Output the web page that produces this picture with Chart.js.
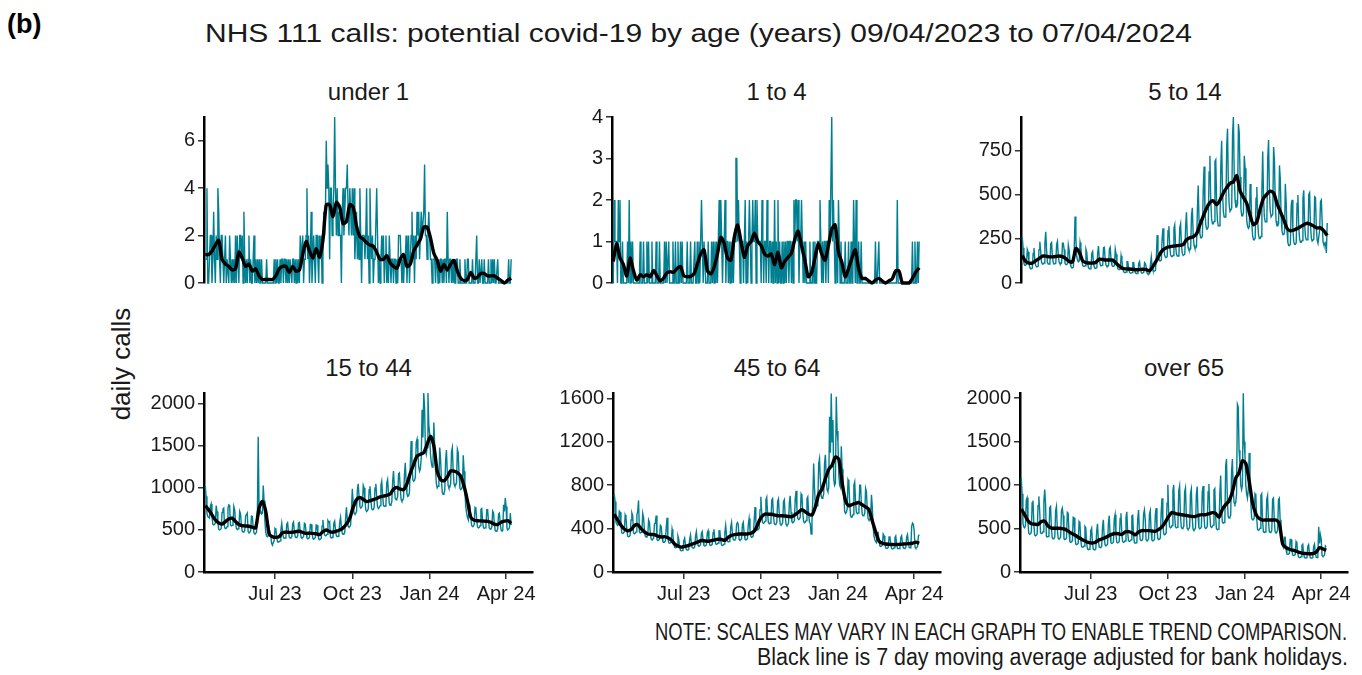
<!DOCTYPE html>
<html>
<head>
<meta charset="utf-8">
<title>NHS 111 calls: potential covid-19 by age</title>
<script src="https://cdn.jsdelivr.net/npm/chart.js@4.4.1/dist/chart.umd.min.js"></script>
<style>
  body { margin: 0; width: 1362px; height: 675px; background: #fff; position: relative; overflow: hidden;
         font-family: "Liberation Sans", Arial, sans-serif; color: #1a1a1a; }
  .txt { position: absolute; white-space: nowrap; line-height: 1; }
  canvas { position: absolute; }
</style>
</head>
<body>
<div class="txt" style="left:7px; top:11px; font-size:27px; font-weight:bold; color:#000;">(b)</div>
<div class="txt fit" data-w="987" style="left:205px; top:20px; font-size:26px;">NHS 111 calls: potential covid-19 by age (years) 09/04/2023 to 07/04/2024</div>
<div class="txt" style="left:121px; top:364px; font-size:26px; transform: translate(-50%, -50%) rotate(-90deg);">daily calls</div>
<div class="txt fit" data-w="692" style="left:655px; top:621px; font-size:23px; font-family:'Liberation Sans Narrow','Liberation Sans',sans-serif;">NOTE: SCALES MAY VARY IN EACH GRAPH TO ENABLE TREND COMPARISON.</div>
<div class="txt fit" data-w="591" style="left:757px; top:646px; font-size:23px; font-family:'Liberation Sans Narrow','Liberation Sans',sans-serif;">Black line is 7 day moving average adjusted for bank holidays.</div>

<script>
// panels, in reading order
const AGE_GROUPS = ["under 1", "1 to 4", "5 to 14", "15 to 44", "45 to 64", "over 65"];

// x axis: day 0 = 09/04/2023 (Sunday), one value per day up to 07/04/2024
const X_TICK_DAYS = [83, 175, 267, 358];
const X_TICK_LABELS = ["Jul 23", "Oct 23", "Jan 24", "Apr 24"];

// y axis per panel
const Y_TICKS = [
  [0, 2, 4, 6],
  [0, 1, 2, 3, 4],
  [0, 250, 500, 750],
  [0, 500, 1000, 1500, 2000],
  [0, 400, 800, 1200, 1600],
  [0, 500, 1000, 1500, 2000]
];
const Y_MAX = [7, 4, 940, 2130, 1650, 2060];

// daily calls, one row per week (Sun..Sat)
const DAILY_UNDER_1 = [
  1, 1, 4, 0, 0, 1, 2,
  2, 0, 1, 3, 1, 0, 2,
  1, 4, 3, 1, 0, 2, 2,
  2, 0, 1, 2, 0, 1, 1,
  0, 2, 1, 0, 1, 0, 1,
  0, 2, 0, 2, 1, 0, 2,
  2, 1, 2, 0, 3, 1, 0,
  1, 0, 1, 2, 0, 1, 0,
  0, 1, 2, 0, 1, 0, 1,
  0, 1, 0, 0, 1, 0, 0,
  0, 0, 0, 1, 0, 0, 0,
  0, 0, 0, 0, 0, 1, 0,
  1, 0, 1, 0, 0, 1, 0,
  1, 1, 0, 1, 1, 0, 1,
  0, 1, 0, 1, 1, 0, 1,
  1, 0, 1, 0, 1, 0, 1,
  0, 2, 1, 1, 2, 0, 1,
  1, 2, 4, 1, 2, 0, 1,
  3, 0, 1, 2, 1, 0, 2,
  2, 1, 0, 2, 1, 2, 0,
  1, 3, 2, 3, 6, 4, 5,
  4, 1, 4, 4, 2, 3, 4,
  7, 4, 2, 4, 2, 3, 2,
  2, 0, 3, 4, 2, 3, 4,
  4, 5, 3, 2, 4, 3, 2,
  4, 2, 4, 1, 2, 3, 1,
  2, 1, 4, 2, 0, 2, 2,
  2, 1, 2, 4, 1, 2, 0,
  4, 2, 1, 2, 0, 1, 1,
  1, 4, 2, 0, 1, 0, 1,
  2, 1, 2, 0, 1, 2, 0,
  1, 0, 2, 1, 0, 1, 1,
  0, 1, 1, 0, 1, 0, 2,
  2, 2, 1, 0, 1, 0, 1,
  1, 2, 0, 1, 2, 0, 1,
  2, 3, 1, 2, 0, 2, 1,
  3, 2, 3, 1, 2, 3, 2,
  2, 3, 5, 2, 2, 1, 2,
  3, 2, 1, 1, 0, 1, 1,
  1, 0, 1, 1, 0, 1, 0,
  1, 1, 0, 1, 0, 1, 1,
  0, 3, 1, 0, 1, 1, 0,
  1, 0, 1, 0, 0, 1, 1,
  0, 0, 1, 0, 0, 0, 0,
  0, 1, 0, 0, 1, 1, 0,
  0, 0, 0, 1, 0, 0, 0,
  0, 2, 0, 0, 1, 0, 0,
  1, 0, 0, 1, 0, 0, 0,
  0, 1, 0, 0, 1, 0, 1,
  0, 1, 0, 0, 0, 1, 0,
  0, 0, 0, 0, 0, 0, 0,
  0, 0, 0, 0, 1, 0, 0,
  1
];

const DAILY_1_TO_4 = [
  0, 2, 1, 1, 1, 0, 2,
  1, 2, 0, 0, 1, 0, 0,
  0, 0, 0, 1, 0, 2, 0,
  1, 0, 1, 0, 0, 0, 0,
  0, 0, 0, 0, 1, 0, 0,
  0, 1, 0, 0, 0, 1, 0,
  1, 0, 0, 0, 1, 0, 0,
  0, 0, 1, 0, 0, 0, 1,
  0, 0, 0, 0, 0, 1, 0,
  1, 0, 0, 1, 0, 0, 0,
  0, 1, 0, 0, 1, 0, 0,
  1, 0, 0, 1, 0, 1, 0,
  0, 0, 0, 0, 1, 0, 0,
  0, 1, 0, 0, 0, 0, 1,
  0, 0, 1, 0, 1, 0, 1,
  2, 1, 0, 1, 1, 0, 0,
  0, 1, 0, 0, 0, 1, 0,
  1, 0, 1, 0, 1, 0, 1,
  2, 1, 2, 1, 0, 1, 1,
  2, 0, 1, 1, 0, 1, 0,
  1, 0, 1, 0, 1, 1, 3,
  3, 1, 2, 1, 0, 1, 1,
  1, 0, 1, 2, 0, 1, 0,
  1, 2, 1, 0, 1, 2, 1,
  1, 2, 0, 2, 1, 1, 1,
  1, 0, 2, 1, 0, 1, 1,
  0, 2, 1, 0, 1, 1, 0,
  1, 0, 0, 2, 0, 1, 0,
  2, 0, 1, 0, 0, 1, 0,
  1, 0, 1, 0, 1, 1, 0,
  1, 1, 0, 1, 0, 2, 1,
  2, 2, 1, 2, 0, 1, 1,
  2, 1, 0, 1, 0, 1, 0,
  0, 0, 0, 1, 0, 0, 0,
  1, 0, 1, 0, 0, 1, 1,
  1, 2, 1, 0, 1, 0, 1,
  1, 0, 1, 1, 0, 2, 1,
  1, 4, 1, 2, 1, 0, 1,
  1, 0, 2, 1, 0, 1, 0,
  0, 0, 0, 1, 0, 0, 0,
  1, 0, 0, 1, 0, 0, 2,
  1, 0, 2, 0, 0, 1, 0,
  0, 1, 0, 0, 0, 0, 0,
  0, 0, 0, 0, 0, 0, 0,
  0, 0, 0, 0, 1, 0, 0,
  0, 1, 0, 0, 0, 0, 0,
  0, 0, 0, 0, 0, 0, 0,
  0, 0, 0, 0, 0, 0, 0,
  0, 0, 2, 0, 0, 0, 0,
  0, 0, 0, 0, 0, 0, 0,
  0, 0, 0, 0, 0, 0, 1,
  0, 0, 1, 0, 0, 1, 0,
  1
];

const DAILY_5_TO_14 = [
  260, 200, 110, 100, 100, 105, 190,
  175, 113, 88, 81, 81, 85, 167,
  198, 128, 100, 92, 92, 96, 189,
  233, 180, 117, 108, 108, 113, 222,
  290, 190, 117, 108, 108, 113, 222,
  229, 148, 115, 107, 107, 111, 219,
  236, 152, 119, 109, 109, 114, 225,
  225, 190, 113, 104, 104, 109, 215,
  186, 120, 94, 86, 86, 90, 178,
  377, 250, 150, 130, 120, 125, 230,
  202, 130, 101, 94, 94, 98, 192,
  175, 113, 88, 81, 81, 85, 167,
  178, 115, 90, 83, 83, 86, 170,
  209, 135, 105, 97, 97, 101, 200,
  202, 130, 101, 94, 94, 98, 192,
  202, 130, 101, 94, 94, 98, 192,
  163, 105, 82, 76, 76, 79, 155,
  127, 82, 64, 59, 59, 62, 121,
  121, 78, 61, 56, 56, 59, 115,
  116, 75, 59, 54, 54, 56, 111,
  121, 78, 61, 56, 56, 59, 115,
  109, 90, 55, 50, 50, 53, 104,
  147, 95, 74, 68, 68, 71, 141,
  271, 175, 137, 126, 126, 131, 259,
  310, 200, 156, 144, 144, 150, 296,
  322, 208, 162, 150, 150, 156, 308,
  329, 212, 165, 153, 153, 159, 314,
  336, 217, 169, 156, 156, 163, 321,
  400, 258, 201, 186, 186, 194, 382,
  426, 275, 215, 198, 198, 206, 407,
  552, 356, 278, 256, 256, 267, 527,
  659, 425, 332, 306, 306, 319, 629,
  721, 465, 363, 335, 335, 349, 688,
  698, 450, 351, 324, 324, 338, 666,
  806, 520, 406, 374, 374, 390, 770,
  874, 564, 440, 406, 406, 423, 835,
  940, 620, 470, 430, 430, 450, 900,
  850, 600, 420, 380, 380, 400, 720,
  650, 480, 350, 320, 310, 320, 560,
  500, 340, 265, 245, 245, 255, 480,
  543, 350, 273, 252, 252, 263, 518,
  744, 480, 374, 346, 346, 360, 710,
  810, 520, 406, 374, 374, 390, 770,
  698, 450, 351, 324, 324, 338, 666,
  589, 380, 296, 274, 274, 285, 562,
  457, 295, 230, 212, 212, 221, 437,
  471, 304, 237, 219, 219, 228, 450,
  498, 321, 250, 231, 231, 241, 475,
  525, 339, 264, 244, 244, 254, 502,
  512, 330, 257, 238, 238, 248, 488,
  484, 312, 243, 225, 225, 300, 462,
  470, 340, 234, 216, 216, 225, 170,
  340
];

const DAILY_15_TO_44 = [
  1020, 900, 700, 660, 650, 640, 780,
  810, 660, 570, 560, 565, 585, 790,
  720, 590, 510, 500, 505, 520, 710,
  750, 760, 530, 515, 520, 540, 760,
  800, 790, 560, 550, 555, 575, 780,
  740, 600, 520, 505, 515, 530, 720,
  690, 560, 485, 475, 480, 495, 670,
  680, 700, 480, 470, 475, 490, 665,
  660, 540, 465, 455, 460, 475, 650,
  1610, 800, 700, 720, 690, 700, 1030,
  850, 600, 470, 430, 420, 430, 520,
  520, 420, 340, 320, 350, 370, 520,
  510, 420, 360, 355, 360, 370, 505,
  580, 480, 410, 400, 405, 420, 570,
  585, 480, 415, 405, 410, 420, 575,
  595, 490, 420, 410, 415, 430, 585,
  590, 485, 415, 405, 410, 425, 580,
  570, 470, 405, 395, 400, 415, 565,
  565, 470, 400, 390, 400, 410, 560,
  555, 460, 395, 385, 390, 400, 545,
  620, 510, 440, 430, 435, 450, 610,
  590, 600, 415, 405, 410, 425, 580,
  605, 500, 430, 420, 425, 440, 595,
  650, 535, 460, 450, 455, 470, 640,
  770, 630, 545, 535, 540, 560, 755,
  990, 815, 705, 690, 695, 720, 975,
  1050, 900, 780, 760, 770, 795, 1030,
  1000, 855, 740, 720, 730, 755, 980,
  1020, 875, 755, 740, 745, 770, 1000,
  1050, 900, 775, 755, 765, 790, 1030,
  1080, 925, 795, 780, 785, 815, 1060,
  1100, 945, 815, 795, 805, 835, 1080,
  1200, 1020, 880, 860, 870, 900, 1170,
  1180, 1005, 865, 845, 855, 885, 1150,
  1300, 1080, 930, 900, 910, 950, 1280,
  1560, 1290, 1100, 1080, 1090, 1130, 1540,
  1580, 1420, 1250, 1200, 1230, 1350, 1930,
  1600, 2130, 1950, 1450, 1400, 1480, 2130,
  1750, 1650, 1400, 1300, 1250, 1300, 1780,
  1500, 1220, 1050, 1000, 1020, 1060, 1480,
  1350, 1100, 950, 925, 935, 970, 1330,
  1450, 1190, 1030, 1000, 1010, 1050, 1430,
  1480, 1215, 1050, 1025, 1035, 1070, 1460,
  1420, 1160, 1000, 980, 990, 1020, 1390,
  1200, 950, 780, 700, 650, 620, 800,
  780, 640, 555, 540, 545, 565, 770,
  760, 620, 535, 525, 530, 550, 745,
  755, 615, 530, 520, 525, 545, 740,
  740, 605, 525, 510, 515, 535, 725,
  705, 575, 495, 485, 490, 510, 690,
  700, 580, 500, 490, 495, 800, 720,
  880, 780, 520, 500, 510, 530, 700,
  560
];

const DAILY_45_TO_64 = [
  720, 650, 460, 440, 430, 440, 560,
  550, 430, 360, 355, 360, 370, 525,
  500, 395, 330, 325, 328, 340, 480,
  545, 520, 360, 352, 357, 370, 525,
  560, 660, 370, 360, 365, 378, 540,
  500, 393, 331, 323, 327, 339, 481,
  460, 362, 305, 298, 302, 312, 444,
  450, 520, 297, 290, 293, 304, 431,
  420, 332, 280, 273, 276, 286, 406,
  500, 321, 271, 265, 268, 277, 394,
  345, 270, 228, 223, 225, 233, 331,
  300, 237, 200, 195, 197, 204, 290,
  312, 245, 206, 202, 204, 211, 300,
  340, 267, 225, 220, 223, 231, 328,
  370, 291, 245, 239, 242, 251, 356,
  372, 292, 246, 240, 243, 252, 358,
  380, 298, 251, 245, 248, 257, 365,
  394, 309, 261, 255, 258, 267, 379,
  380, 298, 251, 245, 248, 257, 365,
  429, 337, 284, 277, 281, 290, 413,
  455, 357, 301, 294, 298, 308, 438,
  455, 440, 301, 294, 298, 308, 438,
  458, 359, 303, 296, 299, 310, 440,
  494, 388, 327, 319, 323, 334, 475,
  598, 469, 396, 386, 391, 405, 575,
  693, 544, 458, 448, 453, 469, 666,
  689, 541, 456, 445, 451, 466, 663,
  676, 530, 447, 437, 442, 458, 650,
  673, 528, 445, 435, 440, 456, 648,
  666, 522, 440, 430, 435, 451, 640,
  702, 551, 464, 454, 459, 475, 675,
  748, 587, 495, 483, 489, 506, 719,
  702, 551, 464, 454, 459, 475, 675,
  693, 544, 458, 448, 350, 469, 666,
  1000, 780, 620, 600, 610, 640, 1000,
  1045, 850, 700, 680, 690, 720, 1000,
  1080, 880, 760, 740, 780, 1430, 1100,
  1646, 1200, 1400, 850, 800, 820, 1615,
  1300, 1200, 900, 800, 780, 1158, 950,
  900, 700, 560, 540, 550, 580, 850,
  830, 640, 520, 505, 510, 530, 800,
  830, 653, 550, 538, 544, 563, 800,
  800, 627, 529, 517, 523, 541, 770,
  740, 581, 490, 479, 484, 502, 712,
  600, 420, 330, 300, 280, 270, 360,
  364, 286, 241, 235, 238, 246, 350,
  335, 263, 222, 217, 219, 227, 322,
  329, 258, 218, 213, 215, 223, 316,
  332, 260, 219, 214, 217, 224, 319,
  335, 263, 222, 217, 219, 227, 322,
  345, 270, 228, 223, 225, 420, 450,
  440, 380, 230, 220, 225, 235, 330,
  345
];

const DAILY_OVER_65 = [
  1086, 900, 560, 520, 510, 530, 830,
  855, 570, 445, 433, 439, 456, 798,
  822, 548, 427, 416, 422, 438, 767,
  870, 700, 452, 441, 447, 464, 812,
  950, 780, 413, 403, 408, 424, 742,
  755, 503, 392, 382, 387, 402, 704,
  755, 503, 392, 382, 387, 402, 704,
  735, 650, 382, 372, 377, 392, 686,
  675, 450, 351, 342, 347, 360, 630,
  623, 415, 324, 315, 320, 332, 581,
  563, 375, 293, 285, 289, 300, 525,
  510, 340, 265, 258, 262, 272, 476,
  503, 335, 261, 255, 258, 268, 469,
  555, 370, 289, 281, 285, 296, 518,
  600, 400, 312, 304, 308, 320, 560,
  648, 432, 337, 328, 333, 346, 605,
  660, 440, 343, 334, 339, 352, 616,
  675, 450, 351, 342, 347, 360, 630,
  693, 462, 360, 351, 356, 370, 647,
  653, 435, 339, 331, 335, 348, 609,
  714, 476, 371, 362, 367, 381, 666,
  714, 600, 371, 362, 367, 381, 666,
  705, 470, 367, 357, 362, 376, 658,
  735, 490, 382, 372, 377, 392, 686,
  848, 565, 441, 429, 435, 452, 791,
  1005, 670, 523, 509, 516, 536, 938,
  1002, 668, 521, 508, 514, 534, 935,
  989, 659, 514, 501, 507, 527, 923,
  969, 646, 504, 491, 497, 517, 904,
  954, 636, 496, 483, 490, 509, 890,
  983, 655, 511, 498, 504, 524, 917,
  989, 659, 514, 501, 507, 527, 923,
  1013, 675, 527, 513, 520, 540, 945,
  960, 640, 499, 486, 493, 512, 896,
  1110, 740, 577, 562, 570, 592, 1220,
  1300, 819, 639, 622, 631, 655, 1147,
  1300, 950, 800, 780, 800, 900, 1930,
  1900, 1400, 1250, 1000, 950, 1000, 2057,
  1500, 1350, 1000, 900, 850, 950, 1370,
  1100, 800, 620, 600, 600, 620, 900,
  880, 630, 491, 479, 485, 504, 880,
  900, 598, 466, 454, 460, 478, 837,
  880, 598, 466, 454, 460, 478, 837,
  850, 595, 464, 452, 458, 476, 833,
  850, 600, 400, 330, 300, 280, 400,
  400, 267, 208, 203, 206, 214, 374,
  375, 250, 195, 190, 193, 200, 350,
  330, 220, 172, 167, 169, 176, 308,
  320, 213, 166, 162, 164, 170, 298,
  315, 210, 164, 160, 162, 168, 294,
  320, 215, 170, 165, 168, 520, 330,
  430, 380, 190, 180, 185, 195, 300,
  290
];

// 7 day moving average (black line), read every 4th day
const TREND_STEP = 4;
const TREND_UNDER_1 = [
  1.2, 1.2, 1.35, 1.6, 1.8, 1.0, 0.8, 0.7, 0.55, 0.6,
  1.3, 1.05, 0.7, 0.8, 0.5, 0.6, 0.3, 0.15, 0.15, 0.15,
  0.15, 0.3, 0.6, 0.7, 0.7, 0.45, 0.7, 0.5, 0.55, 1.2,
  1.75, 1.35, 1.05, 1.45, 1.1, 1.8, 3.3, 3.3, 2.8, 3.4,
  3.2, 2.5, 2.6, 3.3, 3.2, 2.4, 1.95, 1.85, 1.7, 1.6,
  1.55, 1.3, 1.0, 1.0, 1.15, 0.85, 0.7, 0.62, 1.0, 1.2,
  0.7, 0.8, 1.35, 1.6, 1.85, 2.35, 2.35, 1.9, 1.25, 0.95,
  0.5, 0.78, 0.55, 0.8, 0.95, 0.5, 0.2, 0.1, 0.15, 0.45,
  0.2, 0.25, 0.4, 0.4, 0.3, 0.3, 0.3, 0.2, 0.1, 0.0,
  0.12, 0.2
];
const TREND_1_TO_4 = [
  0.52, 0.95, 0.6, 0.45, 0.17, 0.6, 0.3, 0.07, 0.2, 0.15,
  0.2, 0.15, 0.3, 0.17, 0.05, 0.12, 0.25, 0.27, 0.26, 0.35,
  0.4, 0.17, 0.15, 0.16, 0.22, 0.45, 0.7, 0.8, 0.3, 0.22,
  0.38, 0.7, 1.1, 0.95, 0.6, 0.55, 1.1, 1.4, 1.0, 0.62,
  0.9, 1.0, 1.2, 1.0, 0.9, 0.7, 0.65, 0.7, 0.44, 0.74,
  0.37, 0.52, 0.62, 0.72, 1.05, 1.25, 0.9, 0.55, 0.15, 0.25,
  0.6, 0.95, 0.7, 0.55, 0.9, 1.3, 1.4, 0.74, 0.5, 0.15,
  0.35, 0.6, 0.8, 0.35, 0.11, 0.11, 0.05, 0.0, 0.07, 0.11,
  0.05, 0.0, 0.05, 0.1, 0.29, 0.29, 0.0, 0.0, 0.0, 0.11,
  0.26, 0.37
];
const TREND_5_TO_14 = [
  156, 122, 113, 113, 126, 138, 152, 152, 148, 148,
  150, 153, 149, 138, 122, 120, 195, 175, 127, 115,
  113, 113, 118, 135, 133, 130, 130, 130, 112, 96,
  82, 80, 79, 77, 75, 76, 78, 76, 69, 95,
  125, 162, 188, 200, 205, 209, 211, 213, 217, 245,
  256, 262, 278, 330, 378, 425, 455, 465, 443, 469,
  510, 540, 564, 573, 608, 521, 485, 450, 382, 330,
  347, 420, 480, 503, 520, 510, 451, 405, 360, 310,
  295, 300, 308, 318, 330, 338, 332, 322, 312, 312,
  295, 269
];
const TREND_15_TO_44 = [
  790, 740, 680, 620, 585, 570, 600, 630, 640, 600,
  565, 550, 548, 545, 535, 525, 760, 840, 720, 454,
  420, 412, 420, 468, 475, 472, 473, 480, 485, 470,
  460, 462, 460, 455, 446, 480, 500, 480, 473, 485,
  500, 525, 570, 640, 769, 860, 888, 865, 838, 848,
  860, 875, 895, 903, 912, 927, 985, 1005, 986, 980,
  1050, 1175, 1282, 1380, 1400, 1420, 1520, 1617, 1500, 1203,
  1100, 1085, 1130, 1203, 1200, 1183, 1140, 1020, 848, 651,
  615, 610, 608, 605, 602, 590, 570, 565, 592, 605,
  610, 580
];
const TREND_45_TO_64 = [
  533, 480, 430, 396, 380, 390, 427, 436, 400, 370,
  350, 346, 344, 330, 322, 326, 315, 295, 259, 240,
  229, 235, 244, 255, 265, 278, 290, 287, 283, 290,
  296, 302, 300, 292, 320, 338, 345, 350, 350, 350,
  353, 360, 385, 455, 510, 533, 533, 532, 525, 518,
  518, 516, 512, 510, 530, 552, 575, 555, 533, 525,
  600, 715, 765, 860, 945, 985, 1060, 1040, 820, 660,
  610, 622, 632, 640, 620, 600, 575, 470, 370, 285,
  265, 258, 255, 253, 253, 255, 257, 259, 262, 265,
  275, 265
];
const TREND_OVER_65 = [
  724, 660, 590, 555, 550, 548, 580, 585, 530, 505,
  503, 503, 500, 493, 470, 445, 425, 400, 378, 358,
  341, 333, 340, 365, 380, 395, 415, 432, 443, 440,
  432, 460, 465, 452, 428, 460, 476, 476, 476, 472,
  468, 490, 520, 575, 640, 686, 672, 665, 659, 652,
  645, 638, 640, 655, 660, 659, 670, 683, 675, 629,
  720, 775, 819, 920, 1080, 1143, 1280, 1250, 1050, 800,
  667, 615, 598, 598, 598, 598, 598, 560, 324, 280,
  262, 252, 240, 225, 215, 212, 210, 212, 229, 278,
  267, 250
];

const DAILY = [DAILY_UNDER_1, DAILY_1_TO_4, DAILY_5_TO_14, DAILY_15_TO_44, DAILY_45_TO_64, DAILY_OVER_65];
const TREND = [TREND_UNDER_1, TREND_1_TO_4, TREND_5_TO_14, TREND_15_TO_44, TREND_45_TO_64, TREND_OVER_65];

// plot area of each panel on the page (px)
const PANELS = [
  { left: 204,  right: 533,  top: 116, bottom: 297, showX: false },
  { left: 612,  right: 941,  top: 116, bottom: 297, showX: false },
  { left: 1021, right: 1349, top: 116, bottom: 297, showX: false },
  { left: 204,  right: 533,  top: 392, bottom: 572, showX: true },
  { left: 613,  right: 941,  top: 392, bottom: 572, showX: true },
  { left: 1020, right: 1348, top: 392, bottom: 572, showX: true }
];
const X_MIN = -1.5, X_MAX = 390;
const TEAL = "#007f91";
const FONT = "'Liberation Sans', Arial, sans-serif";

Chart.defaults.font.family = FONT;

// squeeze the condensed texts to the width they have in the original
document.querySelectorAll(".fit").forEach(function (el) {
  const w = el.getBoundingClientRect().width;
  el.style.transformOrigin = "left center";
  el.style.transform = "scaleX(" + (el.dataset.w / w) + ")";
});

function drawPanel(i) {
  const p = PANELS[i];
  const padL = 80, padT = 14, padR = 14;
  const padB = p.showX ? 44 : 14;
  const w = p.right - p.left + padL + padR;
  const h = p.bottom - p.top + padT + padB;

  const strip = document.createElement("div");
  strip.className = "txt";
  strip.textContent = AGE_GROUPS[i];
  strip.style.fontSize = "24px";
  strip.style.left = ((p.left + p.right) / 2) + "px";
  strip.style.top = (p.top - 24) + "px";
  strip.style.transform = "translate(-50%, -50%)";
  document.body.appendChild(strip);

  const cv = document.createElement("canvas");
  cv.width = w;
  cv.height = h;
  cv.style.left = (p.left - padL) + "px";
  cv.style.top = (p.top - padT) + "px";
  document.body.appendChild(cv);

  const tickFont = { size: 20, family: FONT };

  new Chart(cv.getContext("2d"), {
    type: "line",
    data: {
      datasets: [
        {
          data: TREND[i].map(function (v, k) { return { x: k * TREND_STEP, y: v }; }),
          borderColor: "#000",
          borderWidth: 3.4,
          tension: 0.25,
          pointRadius: 0,
          clip: 6,
          order: 0
        },
        {
          data: DAILY[i].map(function (v, k) { return { x: k, y: v }; }),
          borderColor: TEAL,
          borderWidth: 1.4,
          tension: 0,
          pointRadius: 0,
          clip: 6,
          order: 1
        }
      ]
    },
    options: {
      responsive: false,
      animation: false,
      devicePixelRatio: 1,
      layout: { padding: { left: 0, top: padT, right: padR, bottom: p.showX ? 0 : padB } },
      plugins: { legend: { display: false }, tooltip: { enabled: false } },
      scales: {
        x: {
          type: "linear",
          min: X_MIN,
          max: X_MAX,
          display: p.showX,
          afterBuildTicks: function (s) { s.ticks = X_TICK_DAYS.map(function (v) { return { value: v }; }); },
          afterFit: function (s) { s.height = padB; },
          ticks: {
            callback: function (v, k) { return X_TICK_LABELS[k]; },
            color: "#1a1a1a",
            font: tickFont,
            padding: 3,
            maxRotation: 0,
            autoSkip: false
          },
          grid: { drawOnChartArea: false, drawTicks: true, tickLength: 7, color: "#333", lineWidth: 1.5 },
          border: { display: true, color: "#000", width: 2.5 }
        },
        y: {
          min: 0,
          max: Y_MAX[i],
          afterBuildTicks: function (s) { s.ticks = Y_TICKS[i].map(function (v) { return { value: v }; }); },
          afterFit: function (s) { s.width = padL; },
          ticks: {
            callback: function (v) { return String(v); },
            color: "#1a1a1a",
            font: tickFont,
            padding: 3,
            autoSkip: false
          },
          grid: { drawOnChartArea: false, drawTicks: true, tickLength: 6, color: "#333", lineWidth: 1.5 },
          border: { display: true, color: "#000", width: 2.5 }
        }
      }
    }
  });
}

for (let i = 0; i < PANELS.length; i++) drawPanel(i);
</script>
</body>
</html>
